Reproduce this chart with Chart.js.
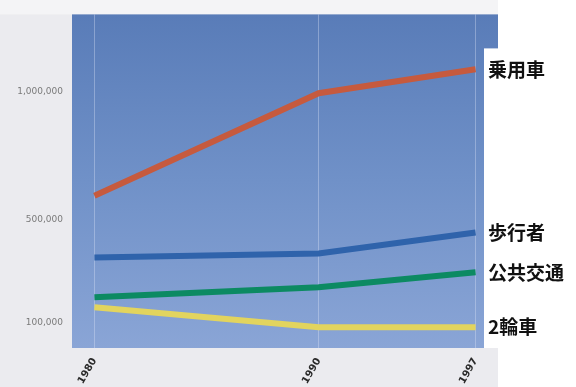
<!DOCTYPE html>
<html>
<head>
<meta charset="utf-8">
<script src="https://cdn.jsdelivr.net/npm/chart.js@4/dist/chart.umd.min.js"></script>
<style>
  html, body { margin: 0; padding: 0; background: #ffffff; }
  #wrap { width: 576px; height: 387px; position: relative; }
</style>
</head>
<body>
<div id="wrap"><canvas id="c" width="576" height="387"></canvas></div>
<script>
// Survey years (x axis)
const years = [1980, 1990, 1997];
// Trips per mode of transport
const seriesNames = ['乗用車', '歩行者', '公共交通', '2輪車'];
const carValues = [593000, 993000, 1086000];
const walkValues = [353000, 368000, 450000];
const transitValues = [198000, 237000, 295000];
const twoWheelValues = [159000, 81000, 81000];
// Tick values on the y axis
const yTicks = [100000, 500000, 1000000];

const seriesColors = ['#c65a3e', '#2f63ab', '#0c8a62', '#e2d45e'];
const seriesValues = [carValues, walkValues, transitValues, twoWheelValues];

const datasets = seriesNames.map((name, i) => ({
  label: name,
  data: years.map((y, j) => ({ x: y, y: seriesValues[i][j] })),
  borderColor: seriesColors[i],
  backgroundColor: seriesColors[i],
  borderWidth: 6,
  pointRadius: 0,
  tension: 0,
  fill: false
}));

// Page background, gradient plot area and white label column
const backdrop = {
  id: 'backdrop',
  beforeDraw(chart) {
    const { ctx, chartArea: a, width, height } = chart;
    ctx.save();
    ctx.fillStyle = '#ebebef';
    ctx.fillRect(0, 0, width, height);
    ctx.fillStyle = '#ffffff';
    ctx.fillRect(a.right, 0, width - a.right, height);
    ctx.fillStyle = '#f4f4f6';
    ctx.fillRect(0, 0, a.right, a.top);
    const g = ctx.createLinearGradient(0, a.top, 0, a.bottom);
    g.addColorStop(0, '#597cb8');
    g.addColorStop(0.5, '#7091c8');
    g.addColorStop(1, '#8aa5d6');
    ctx.fillStyle = g;
    ctx.fillRect(a.left, a.top, a.right - a.left, a.bottom - a.top);
    ctx.restore();
  },
  beforeDatasetsDraw(chart) {
    const { ctx, chartArea: a, width } = chart;
    ctx.save();
    ctx.fillStyle = '#ffffff';
    ctx.fillRect(a.right - 14, a.top + 34, width - (a.right - 14), a.bottom - a.top - 34);
    ctx.restore();
  }
};

// Series names written at the end of each line
const endLabels = {
  id: 'endLabels',
  afterDatasetsDraw(chart) {
    const { ctx, chartArea: a } = chart;
    ctx.save();
    ctx.font = 'bold 19px "Noto Sans CJK JP"';
    ctx.fillStyle = '#111111';
    ctx.textAlign = 'left';
    ctx.textBaseline = 'middle';
    chart.data.datasets.forEach((ds, i) => {
      const meta = chart.getDatasetMeta(i);
      const last = meta.data[meta.data.length - 1];
      ctx.fillText(ds.label, a.right - 10, last.y);
    });
    ctx.restore();
  }
};

new Chart(document.getElementById('c'), {
  type: 'line',
  data: { datasets },
  plugins: [backdrop, endLabels],
  options: {
    responsive: false,
    animation: false,
    layout: { padding: { top: 13, right: 78, left: 0, bottom: 0 } },
    plugins: { legend: { display: false }, tooltip: { enabled: false } },
    scales: {
      x: {
        type: 'linear',
        min: 1979,
        max: 1998,
        afterBuildTicks(scale) { scale.ticks = years.map(v => ({ value: v })); },
        afterFit(scale) { scale.height = 39; },
        border: { display: false },
        grid: { color: 'rgba(225,232,250,0.35)', lineWidth: 1, tickLength: 8, drawOnChartArea: true },
        ticks: {
          minRotation: 60,
          maxRotation: 60,
          padding: 0,
          color: '#2a2a2a',
          font: { family: 'DejaVu Sans', size: 10, weight: 'bold' },
          callback: v => String(v)
        }
      },
      y: {
        min: 0,
        max: 1300000,
        afterBuildTicks(scale) { scale.ticks = yTicks.map(v => ({ value: v })); },
        afterFit(scale) { scale.width = 72; },
        border: { display: false },
        grid: { display: false, drawTicks: false },
        ticks: {
          padding: 9,
          color: '#7a7a7a',
          font: { family: 'DejaVu Sans', size: 9 },
          callback: v => v.toLocaleString('en-US')
        }
      }
    }
  }
});
</script>
</body>
</html>
